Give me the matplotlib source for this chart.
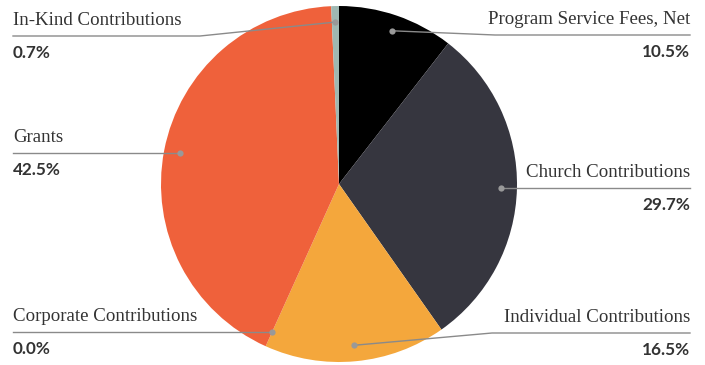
import matplotlib.pyplot as plt
import numpy as np

# revenue mix, clockwise from 12 o'clock
categories = ['Program Service Fees, Net', 'Church Contributions', 'Individual Contributions',
              'Corporate Contributions', 'Grants', 'In-Kind Contributions']
shares = [10.5, 29.7, 16.5, 0.0, 42.5, 0.7]
pct_labels = ['10.5%', '29.7%', '16.5%', '0.0%', '42.5%', '0.7%']
colors = ['#000000', '#36363f', '#f4a73c', '#f4a73c', '#ef613b', '#9fb8b2']

W, H = 705, 365
cx, cy, R = 339, H - 184, 178

# label layout: side, y of the underline (pixels from top), elbow x (None = straight)
sides = ['right', 'right', 'right', 'left', 'left', 'left']
line_y = [35, 188, 333, 333, 155, 36]
elbow_x = [495, None, 492, None, None, 200]

fig = plt.figure(figsize=(W / 100, H / 100), dpi=100)
ax = fig.add_axes([0, 0, 1, 1])

ax.pie(shares, colors=colors, startangle=90, counterclock=False,
       center=(cx, cy), radius=R, wedgeprops=dict(linewidth=0))

# pie() resets the limits, so set them afterwards
ax.set_xlim(0, W)
ax.set_ylim(0, H)
ax.set_aspect('equal')
ax.axis('off')

line_c = '#8a8a8a'
text_c = '#333333'
total = sum(shares)
cum = 0.0
for i, name in enumerate(categories):
    mid = 90 - (cum + shares[i] / 2) / total * 360
    cum += shares[i]
    a = np.radians(mid)
    dx, dy = cx + 0.91 * R * np.cos(a), cy + 0.91 * R * np.sin(a)
    x_end = 690 if sides[i] == 'right' else 13
    if elbow_x[i] is None:
        ly = dy
        xs, ys = [dx, x_end], [dy, ly]
    else:
        ly = H - line_y[i]
        xs, ys = [dx, elbow_x[i], x_end], [dy, ly, ly]
    ax.plot(xs, ys, color=line_c, lw=1.0, zorder=3)
    ax.plot(dx, dy, 'o', ms=4.5, color='#999999', mec='none', zorder=4)
    ha = 'right' if sides[i] == 'right' else 'left'
    ax.text(x_end, ly + 11, name, ha=ha, va='baseline', fontsize=13.6,
            family='Liberation Serif', color=text_c)
    ax.text(x_end, ly - 22, pct_labels[i], ha=ha, va='baseline', fontsize=12.3,
            family='Lato', fontweight='bold', color=text_c)

fig.savefig('out.png', dpi=100)
